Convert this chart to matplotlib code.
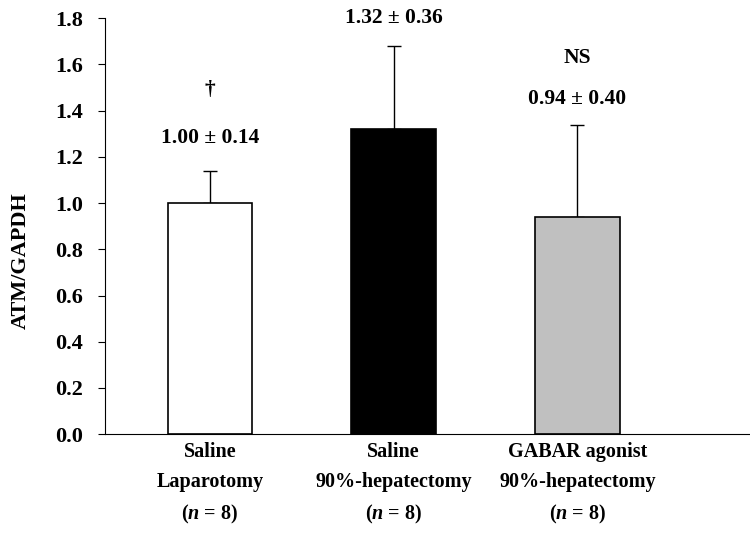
import numpy as np
import matplotlib.pyplot as plt

plt.rcParams['font.family'] = ['Liberation Serif', 'DejaVu Serif']
plt.rcParams['font.weight'] = 'bold'
plt.rcParams['mathtext.fontset'] = 'custom'
plt.rcParams['mathtext.it'] = 'Liberation Serif:style=italic:weight=bold'
plt.rcParams['mathtext.rm'] = 'Liberation Serif:weight=bold'

groups = ["Saline\nLaparotomy\n($\\mathit{n}$ = 8)",
          "Saline\n90%-hepatectomy\n($\\mathit{n}$ = 8)",
          "GABAR agonist\n90%-hepatectomy\n($\\mathit{n}$ = 8)"]
means = [1.00, 1.32, 0.94]
sds = [0.14, 0.36, 0.40]
colors = ['white', 'black', '#c0c0c0']
marks = ['\u2020', '', 'NS']

fig = plt.figure(figsize=(7.5, 5.36), dpi=100)
ax = fig.add_axes([0.14, 0.19, 0.86, 0.776])

x = np.arange(len(means))
ax.bar(x, means, width=0.46, color=colors, edgecolor='black', linewidth=1.2, zorder=2)
ax.errorbar(x, means, yerr=[np.zeros(len(sds)), sds], fmt='none', ecolor='black',
            elinewidth=1, capsize=5, capthick=1, zorder=1)

# mean ± SD labels and significance marks above each bar
label_y = [1.28, 1.80, 1.45]
mark_y = [1.49, None, 1.63]
for i in range(len(means)):
    ax.text(x[i], label_y[i], f"{means[i]:.2f} \u00b1 {sds[i]:.2f}", ha='center', va='center',
            fontsize=15.5, fontweight='bold', clip_on=False)
    if marks[i]:
        ax.text(x[i], mark_y[i], marks[i], ha='center', va='center', fontsize=15.5,
                fontweight='bold', clip_on=False)

ax.set_xlim(-0.572, 2.94)
ax.set_ylim(0, 1.8)
ax.set_yticks(np.arange(0, 1.81, 0.2))
ax.set_yticklabels([f"{v:.1f}" for v in np.arange(0, 1.81, 0.2)], fontsize=16, fontweight='bold')
ax.set_xticks(x)
ax.set_xticklabels(groups, fontsize=14.5, fontweight='bold', linespacing=1.66)
ax.tick_params(axis='x', length=0, pad=6)
ax.tick_params(axis='y', length=5, direction='out', pad=11)
ax.set_ylabel("ATM/GAPDH", fontsize=16, fontweight='bold')
ax.yaxis.set_label_coords(-0.115, 0.418)
ax.spines['top'].set_visible(False)
ax.spines['right'].set_visible(False)

plt.savefig('out.png', dpi=100)
